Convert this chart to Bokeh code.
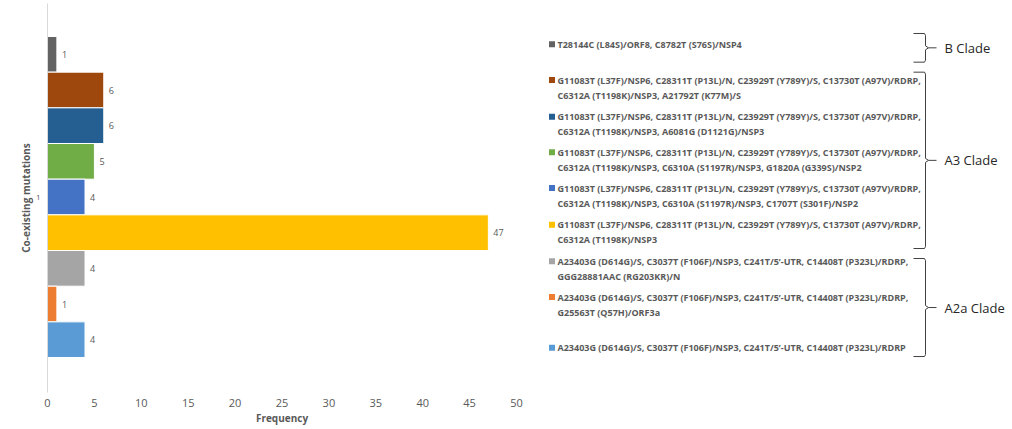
from bokeh.plotting import figure
from bokeh.layouts import row
from bokeh.models import Range1d, FixedTicker, ColumnDataSource
from bokeh.embed import file_html
from bokeh.resources import INLINE
from bokeh.core.properties import value

# ---------------- data ----------------
mutation_lines = [
    ["T28144C (L84S)/ORF8, C8782T (S76S)/NSP4"],
    ["G11083T (L37F)/NSP6, C28311T (P13L)/N, C23929T (Y789Y)/S, C13730T (A97V)/RDRP,",
     "C6312A (T1198K)/NSP3, A21792T (K77M)/S"],
    ["G11083T (L37F)/NSP6, C28311T (P13L)/N, C23929T (Y789Y)/S, C13730T (A97V)/RDRP,",
     "C6312A (T1198K)/NSP3, A6081G (D1121G)/NSP3"],
    ["G11083T (L37F)/NSP6, C28311T (P13L)/N, C23929T (Y789Y)/S, C13730T (A97V)/RDRP,",
     "C6312A (T1198K)/NSP3, C6310A (S1197R)/NSP3, G1820A (G339S)/NSP2"],
    ["G11083T (L37F)/NSP6, C28311T (P13L)/N, C23929T (Y789Y)/S, C13730T (A97V)/RDRP,",
     "C6312A (T1198K)/NSP3, C6310A (S1197R)/NSP3, C1707T (S301F)/NSP2"],
    ["G11083T (L37F)/NSP6, C28311T (P13L)/N, C23929T (Y789Y)/S, C13730T (A97V)/RDRP,",
     "C6312A (T1198K)/NSP3"],
    ["A23403G (D614G)/S, C3037T (F106F)/NSP3, C241T/5\u2019-UTR, C14408T (P323L)/RDRP,",
     "GGG28881AAC (RG203KR)/N"],
    ["A23403G (D614G)/S, C3037T (F106F)/NSP3, C241T/5\u2019-UTR, C14408T (P323L)/RDRP,",
     "G25563T (Q57H)/ORF3a"],
    ["A23403G (D614G)/S, C3037T (F106F)/NSP3, C241T/5\u2019-UTR, C14408T (P323L)/RDRP"],
]
frequencies = [1, 6, 6, 5, 4, 47, 4, 1, 4]
colors = ["#636363", "#9E480E", "#255E91", "#70AD47", "#4472C4",
          "#FFC000", "#A5A5A5", "#ED7D31", "#5B9BD5"]
clades = ["B Clade", "A3 Clade", "A2a Clade"]
clade_first = [0, 1, 6]
clade_last = [0, 5, 8]
x_ticks = [0, 5, 10, 15, 20, 25, 30, 35, 40, 45, 50]
stray_label = "1"        # stray label left of the axis, on the 5th bar's row
stray_row = 4

# ---------------- layout / style ----------------
FRAME_H = 389
TOP_PAD = 0.925
BOT_PAD = 0.98
GREY = "#595959"
FONT = value("Open Sans")
LEGEND_SHIFT = [-10, -10, -9, -9, -9, -8, -7, -7, 8]   # px, first line vs bar centre
LINE_GAP = 15                                           # px between legend lines
BR_TOP = [-3, 0, 8]                                     # px insets of the braces
BR_BOT = [-10, -2, -1]

n = len(frequencies)
ypos = [n - 1 - i for i in range(n)]
y_start, y_end = -0.5 - BOT_PAD, n - 0.5 + TOP_PAD
UNIT = FRAME_H / (y_end - y_start)   # px per category

# ---------------- bar chart ----------------
p1 = figure(frame_width=469, frame_height=FRAME_H, min_border_left=47,
            min_border_right=25, min_border_top=3,
            x_range=Range1d(0, 50), y_range=Range1d(y_start, y_end),
            output_backend="svg", toolbar_location=None)
src = ColumnDataSource(dict(y=ypos, f=frequencies, c=colors,
                            lbl=[str(v) for v in frequencies]))
p1.hbar(y="y", left=0, right="f", height=1, fill_color="c",
        line_color="white", line_width=1, source=src)
p1.text(x="f", y="y", text="lbl", x_offset=5, text_baseline="middle",
        text_align="left", text_font=FONT, text_font_size="9px",
        text_color=GREY, source=src)

p1.xgrid.visible = False
p1.ygrid.visible = False
p1.outline_line_color = None

xa = p1.xaxis[0]
xa.ticker = FixedTicker(ticks=x_ticks)
xa.axis_line_color = None
xa.major_tick_line_color = None
xa.minor_tick_line_color = None
xa.major_tick_out = 0
xa.major_label_text_font = "Open Sans"
xa.major_label_text_font_size = "11px"
xa.major_label_text_color = GREY
xa.major_label_standoff = 6
xa.axis_label = "Frequency"
xa.axis_label_text_font = "Open Sans"
xa.axis_label_text_font_style = "bold"
xa.axis_label_text_font_size = "10px"
xa.axis_label_text_color = GREY
xa.axis_label_standoff = 1

ya = p1.yaxis[0]
ya.ticker = FixedTicker(ticks=[ypos[stray_row]])
ya.major_label_overrides = {ypos[stray_row]: stray_label}
ya.axis_line_color = "#d9d9d9"
ya.major_tick_line_color = None
ya.minor_tick_line_color = None
ya.major_tick_out = 0
ya.major_label_text_font = "Open Sans"
ya.major_label_text_font_size = "8px"
ya.major_label_text_color = GREY
ya.major_label_standoff = 7
ya.axis_label = "Co-existing mutations"
ya.axis_label_text_font = "Open Sans"
ya.axis_label_text_font_style = "bold"
ya.axis_label_text_font_size = "10px"
ya.axis_label_text_color = GREY
ya.axis_label_standoff = 0

# ---------------- legend + clade braces ----------------
p2 = figure(width=469, frame_height=FRAME_H, min_border=0, min_border_top=3,
            x_range=Range1d(0, 469), y_range=Range1d(y_start, y_end),
            output_backend="svg", toolbar_location=None)
p2.axis.visible = False
p2.grid.visible = False
p2.outline_line_color = None

SQ_X, TXT_X = 10.5, 16
sq_y, sq_c, ln_x, ln_y, ln_t = [], [], [], [], []
for i, lines in enumerate(mutation_lines):
    y0 = ypos[i] - LEGEND_SHIFT[i] / UNIT
    sq_y.append(y0)
    sq_c.append(colors[i])
    for k, t in enumerate(lines):
        ln_y.append(y0 - k * LINE_GAP / UNIT)
        ln_t.append(t)
        ln_x.append(TXT_X)
p2.scatter(x=[SQ_X] * n, y=sq_y, marker="square", size=6, fill_color=sq_c,
           line_color=None)
p2.text(x=ln_x, y=ln_y, text=ln_t, text_baseline="middle", text_align="left",
        text_font=FONT, text_font_style="bold", text_font_size="9px",
        text_color=GREY)

STUB_X, VERT_X, TIP_X, DASH_X, LBL_X = 372, 384, 387, 395, 403
bx, by = [], []
for j in range(len(clades)):
    top = ypos[clade_first[j]] + 0.5 - BR_TOP[j] / UNIT
    bot = ypos[clade_last[j]] - 0.5 - BR_BOT[j] / UNIT
    mid = (top + bot) / 2
    d = 2 / UNIT
    bx.append([STUB_X, VERT_X - 1, VERT_X, VERT_X, TIP_X, VERT_X, VERT_X,
               VERT_X - 1, STUB_X])
    by.append([top, top, top - d, mid + d, mid, mid - d, bot + d, bot, bot])
    bx.append([TIP_X, DASH_X])
    by.append([mid, mid])
    p2.text(x=[LBL_X], y=[mid], text=[clades[j]], text_baseline="middle",
            text_align="left", text_font=FONT, text_font_size="13px",
            text_color="#262626")
p2.multi_line(xs=bx, ys=by, line_color="#404040", line_width=1)

layout = row(p1, p2)
open("out.html", "w").write(file_html(layout, INLINE))
